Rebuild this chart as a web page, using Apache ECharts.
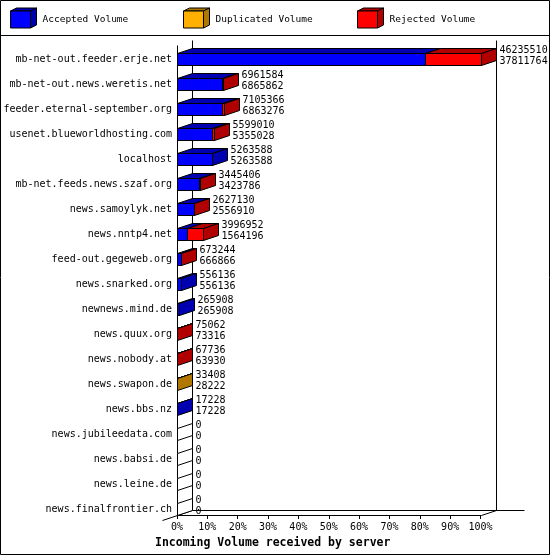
<!DOCTYPE html>
<html><head><meta charset="utf-8">
<script src="https://cdn.jsdelivr.net/npm/echarts@6/dist/echarts.min.js"></script>
<style>html,body{margin:0;padding:0;background:#fff}#c{width:550px;height:555px}</style>
</head><body><div id="c"></div>
<script>
const categories = [
  'mb-net-out.feeder.erje.net','mb-net-out.news.weretis.net','feeder.eternal-september.org',
  'usenet.blueworldhosting.com','localhost','mb-net.feeds.news.szaf.org','news.samoylyk.net',
  'news.nntp4.net','feed-out.gegeweb.org','news.snarked.org','newnews.mind.de','news.quux.org',
  'news.nobody.at','news.swapon.de','news.bbs.nz','news.jubileedata.com','news.babsi.de',
  'news.leine.de','news.finalfrontier.ch'
];
const totalVolume = [46235510,6961584,7105366,5599010,5263588,3445406,2627130,3996952,673244,556136,265908,75062,67736,33408,17228,0,0,0,0];
const acceptedVolume = [37811764,6865862,6863276,5355028,5263588,3423786,2556910,1564196,666866,556136,265908,73316,63930,28222,17228,0,0,0,0];
const duplicatedVolume = [0,0,0,0,0,0,0,0,0,0,0,0,0,5186,0,0,0,0,0];
const rejectedVolume = [8423746,95722,242090,243982,0,21620,70220,2432756,6378,0,0,1746,3806,0,0,0,0,0,0];
const seriesNames = ['Accepted Volume','Duplicated Volume','Rejected Volume'];
const tickLabels = ['0%','10%','20%','30%','40%','50%','60%','70%','80%','90%','100%'];
const xAxisTitle = 'Incoming Volume received by server';

const FRONT = ['#0000ff','#ffb000','#ff0000'];
const DARK = ['#0000b0','#b07800','#b00000'];
const DX = 15, DY = -5, HALF = 6;
const MONO = '"DejaVu Sans Mono","Liberation Mono",monospace';
const maxTotal = Math.max(...totalVolume);
const crisp = v => Math.round(v) + 0.5;

function poly(points, fill) {
  return { type: 'polygon', shape: { points }, style: { fill: fill, stroke: '#000', lineWidth: 1 } };
}
function line(x1, y1, x2, y2) {
  return { type: 'line', shape: { x1, y1, x2, y2 }, style: { stroke: '#000', lineWidth: 1 } };
}

function renderFrame(params, api) {
  const n = categories.length;
  const pTop = api.coord([0, 0]);
  const pBot = api.coord([100, n - 1]);
  const x0 = crisp(pTop[0]), x1 = crisp(pBot[0]);
  const yTop = crisp(pTop[1] - 14);
  const yFloor = crisp(pBot[1] + HALF);
  const bx0 = x0 + DX, bx1 = x1 + DX, byF = yFloor + DY, byT = yTop + DY;
  return { type: 'group', children: [
    line(x0, yTop, x0, yFloor),
    line(bx0, byT, bx0, byF),
    line(bx1, byT, bx1, byF),
    line(bx0, byF, bx1 + 28, byF),
    line(x0, yFloor, x1, yFloor),
    line(x1, yFloor, bx1, byF),
    line(x0 - DX, yFloor - DY, bx0, byF)
  ]};
}

function renderBars(params, api) {
  const i = api.value(0);
  const segs = [api.value(1), api.value(2), api.value(3)];
  const total = api.value(4);
  const accepted = api.value(1);
  const base = api.coord([0, i]);
  const c = base[1];
  const yT = crisp(c - HALF), yB = crisp(c + HALF);
  const children = [];
  let acc = 0, xs = crisp(base[0]), last = -1;
  segs.forEach((v, k) => {
    if (v <= 0) return;
    acc += v;
    const xe = crisp(api.coord([acc / maxTotal * 100, i])[0]);
    children.push(poly([[xs, yT], [xe, yT], [xe, yB], [xs, yB]], FRONT[k]));
    children.push(poly([[xs, yT], [xe, yT], [xe + DX, yT + DY], [xs + DX, yT + DY]], DARK[k]));
    xs = xe; last = k;
  });
  const xe = xs;
  children.push(poly([[xe, yT], [xe + DX, yT + DY], [xe + DX, yB + DY], [xe, yB]], last >= 0 ? DARK[last] : '#fff'));
  const lx = xe + DX + 3;
  children.push({ type: 'text', style: { text: String(total), x: lx, y: c - 9, fill: '#000',
    font: '10px ' + MONO, textAlign: 'left', textVerticalAlign: 'middle', align: 'left', verticalAlign: 'middle' } });
  children.push({ type: 'text', style: { text: String(accepted), x: lx, y: c + 2, fill: '#000',
    font: '10px ' + MONO, textAlign: 'left', textVerticalAlign: 'middle', align: 'left', verticalAlign: 'middle' } });
  return { type: 'group', children };
}

function legendCube(x, k) {
  const y = 11, w = 20, h = 17, dx = 6, dy = -3;
  return [
    { type: 'polygon', shape: { points: [[x, y], [x + w, y], [x + w + dx, y + dy], [x + dx, y + dy]] }, style: { fill: DARK[k], stroke: '#000', lineWidth: 1 } },
    { type: 'polygon', shape: { points: [[x + w, y], [x + w + dx, y + dy], [x + w + dx, y + h + dy], [x + w, y + h]] }, style: { fill: DARK[k], stroke: '#000', lineWidth: 1 } },
    { type: 'rect', shape: { x: x, y: y, width: w, height: h }, style: { fill: FRONT[k], stroke: '#000', lineWidth: 1 } },
    { type: 'text', style: { text: seriesNames[k], x: x + 32, y: 20, fill: '#000', font: '9.5px ' + MONO, align: 'left', verticalAlign: 'middle' } }
  ];
}

const barData = categories.map((name, i) => [i, acceptedVolume[i], duplicatedVolume[i], rejectedVolume[i], totalVolume[i]]);

const chart = echarts.init(document.getElementById('c'), null, { renderer: 'canvas' });
chart.setOption({
  animation: false,
  backgroundColor: '#fff',
  grid: { left: 177, right: 69.5, top: 46.5, bottom: 33.5, containLabel: false },
  xAxis: {
    type: 'value', min: 0, max: 100, interval: 10, offset: -6.5,
    axisLine: { show: false },
    axisTick: { show: true, length: 4, lineStyle: { color: '#000' } },
    splitLine: { show: false },
    axisLabel: { margin: 7, color: '#000', fontSize: 10, fontFamily: MONO,
      formatter: (v) => tickLabels[Math.round(v / 10)] }
  },
  yAxis: {
    type: 'category', data: categories, inverse: true,
    axisLine: { show: false }, axisTick: { show: false }, splitLine: { show: false },
    axisLabel: { margin: 5, color: '#000', fontSize: 10, fontFamily: MONO }
  },
  series: [
    { type: 'custom', name: 'frame', renderItem: renderFrame, data: [[0, 0]], encode: { x: 0, y: 1 }, clip: false, silent: true, z: 1 },
    { type: 'custom', name: 'bars', renderItem: renderBars, data: barData, encode: { x: 1, y: 0 }, clip: false, silent: true, z: 2 }
  ],
  graphic: [
    { type: 'rect', shape: { x: 0.5, y: 0.5, width: 549, height: 554 }, style: { fill: 'none', stroke: '#000', lineWidth: 1 }, z: 10 },
    { type: 'line', shape: { x1: 0, y1: 35.5, x2: 550, y2: 35.5 }, style: { stroke: '#000', lineWidth: 1 }, z: 10 },
    ...legendCube(10.5, 0), ...legendCube(183.5, 1), ...legendCube(357.5, 2),
    { type: 'text', style: { text: xAxisTitle, x: 155, y: 543, fill: '#000', font: 'bold 11.5px ' + MONO, align: 'left', verticalAlign: 'middle' }, z: 10 }
  ]
});
</script></body></html>
